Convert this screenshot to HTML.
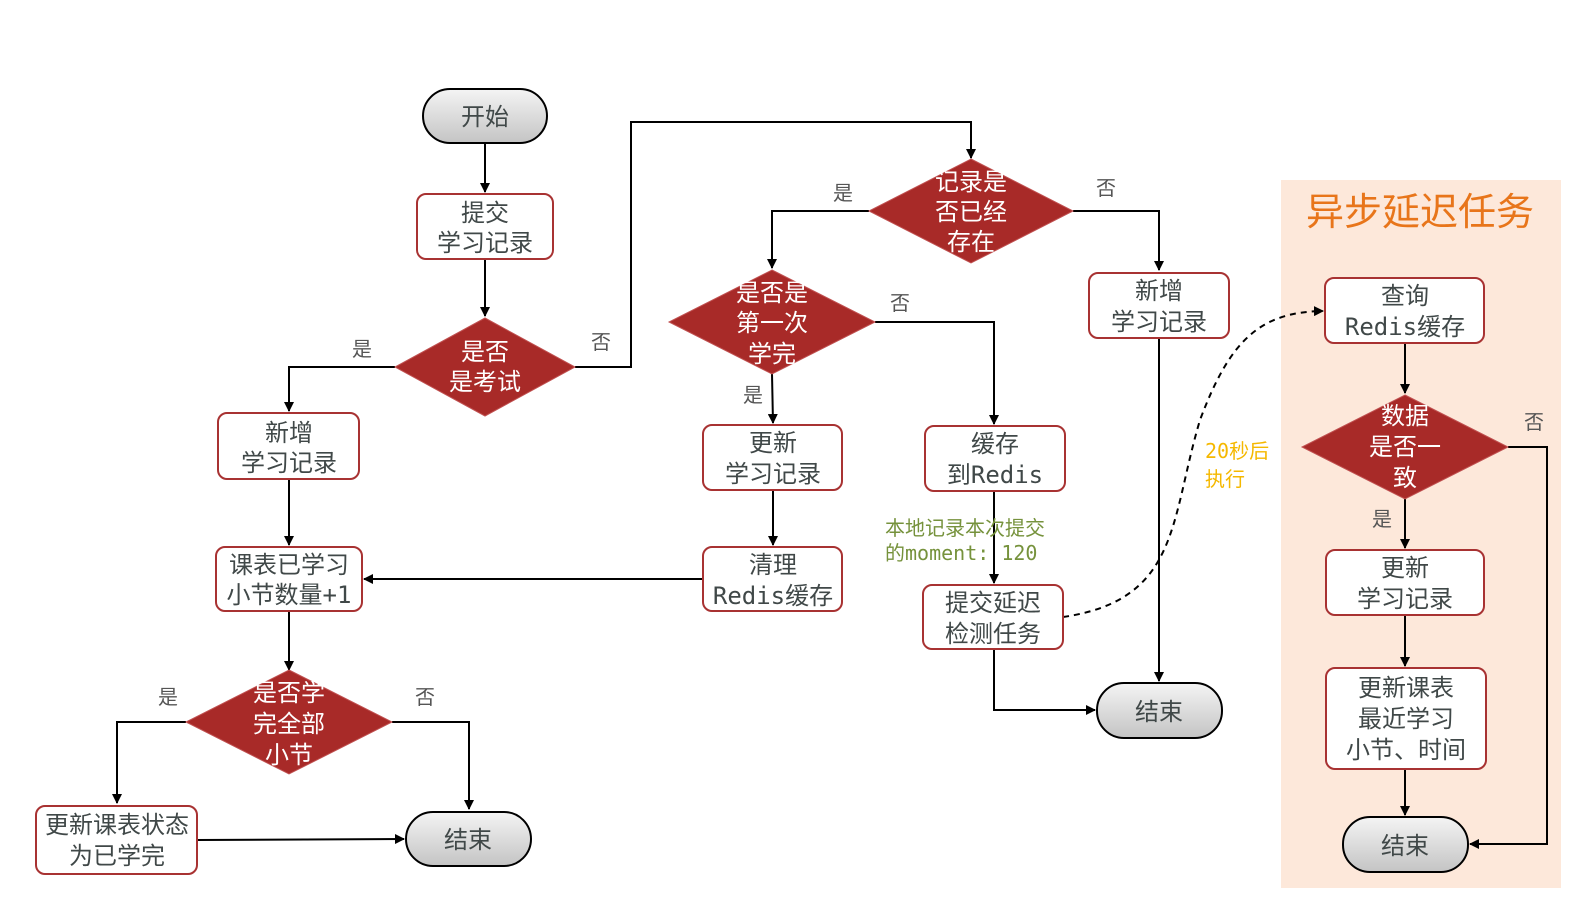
<!DOCTYPE html>
<html><head><meta charset="utf-8"><style>
html,body{margin:0;padding:0;background:#fff}
svg{display:block}
.bx{fill:#fff;stroke:#a83232;stroke-width:2}
.dm{fill:#a82a28;stroke:#c05050;stroke-width:1}
.tm{fill:url(#g);stroke:#000;stroke-width:2}
.ln{fill:none;stroke:#000;stroke-width:2}
.t{font-family:"DejaVu Sans Mono","Noto Sans CJK SC",monospace;font-size:24px;fill:#404848;text-anchor:middle}
.w{font-family:"Liberation Sans","Noto Sans CJK SC",sans-serif;font-size:24px;fill:#fff;text-anchor:middle}
.l{font-family:"Liberation Sans","Noto Sans CJK SC",sans-serif;font-size:20px;fill:#555;text-anchor:middle}
</style></head><body>
<svg width="1584" height="910" viewBox="0 0 1584 910" xmlns="http://www.w3.org/2000/svg">
<defs>
<linearGradient id="g" x1="0" y1="0" x2="0" y2="1"><stop offset="0" stop-color="#f4f4f4"/><stop offset="1" stop-color="#c4c4c4"/></linearGradient>
<marker id="a" markerWidth="10" markerHeight="10" refX="9" refY="5" orient="auto" markerUnits="userSpaceOnUse"><path d="M0,0 L10,5 L0,10 z" fill="#000"/></marker>
</defs>
<rect x="1281" y="180" width="280" height="708" fill="#fde8da"/>
<text x="1420" y="225" font-family="'Liberation Sans','Noto Sans CJK SC',sans-serif" font-size="38" fill="#e8751a" text-anchor="middle">异步延迟任务</text>

<!-- connectors -->
<g class="ln" marker-end="url(#a)">
<path d="M485,143 V192"/>
<path d="M485,259 V316"/>
<path d="M395,367 H289 V411"/>
<path d="M575,367 H631 V122 H971 V158"/>
<path d="M289,479 V545"/>
<path d="M289,611 V670"/>
<path d="M186,722 H117 V803"/>
<path d="M392,722 H469 V809"/>
<path d="M197,840 L404,839"/>
<path d="M869,211 H772 V268"/>
<path d="M1073,211 H1159 V270"/>
<path d="M1159,338 V681"/>
<path d="M772,374 L773,423"/>
<path d="M875,322 H994 V424"/>
<path d="M773,490 V545"/>
<path d="M703,579 H364"/>
<path d="M994,491 V583"/>
<path d="M994,649 V710 H1095"/>
<path d="M1405,343 V393"/>
<path d="M1508,447 H1547 V844 H1470"/>
<path d="M1405,499 V548"/>
<path d="M1405,615 V666"/>
<path d="M1405,769 V815"/>
<path d="M1063,617 C1180,600 1170,520 1200,420 C1230,340 1260,312 1323,311" stroke-dasharray="6,5"/>
</g>

<!-- terminals -->
<rect class="tm" x="423" y="89" width="124" height="54" rx="27"/><text class="t" x="485" y="125">开始</text>
<rect class="tm" x="406" y="812" width="125" height="54" rx="27"/><text class="t" x="468" y="848">结束</text>
<rect class="tm" x="1097" y="683" width="125" height="55" rx="27"/><text class="t" x="1159" y="720">结束</text>
<rect class="tm" x="1343" y="817" width="125" height="55" rx="27"/><text class="t" x="1405" y="854">结束</text>

<!-- boxes -->
<rect class="bx" x="417" y="194" width="136" height="65" rx="9"/><text class="t" x="485" y="221">提交</text><text class="t" x="485" y="251">学习记录</text>
<rect class="bx" x="218" y="413" width="141" height="66" rx="9"/><text class="t" x="289" y="441">新增</text><text class="t" x="289" y="471">学习记录</text>
<rect class="bx" x="216" y="547" width="146" height="64" rx="9"/><text class="t" x="289" y="573">课表已学习</text><text class="t" x="289" y="603">小节数量+1</text>
<rect class="bx" x="36" y="806" width="161" height="68" rx="9"/><text class="t" x="117" y="833">更新课表状态</text><text class="t" x="117" y="864">为已学完</text>
<rect class="bx" x="703" y="425" width="139" height="65" rx="9"/><text class="t" x="773" y="451">更新</text><text class="t" x="773" y="482">学习记录</text>
<rect class="bx" x="703" y="547" width="139" height="64" rx="9"/><text class="t" x="773" y="573">清理</text><text class="t" x="773" y="604">Redis缓存</text>
<rect class="bx" x="925" y="426" width="140" height="65" rx="9"/><text class="t" x="995" y="452">缓存</text><text class="t" x="995" y="483">到Redis</text>
<rect class="bx" x="923" y="585" width="140" height="64" rx="9"/><text class="t" x="993" y="611">提交延迟</text><text class="t" x="993" y="642">检测任务</text>
<rect class="bx" x="1089" y="273" width="140" height="65" rx="9"/><text class="t" x="1159" y="299">新增</text><text class="t" x="1159" y="330">学习记录</text>
<rect class="bx" x="1325" y="278" width="159" height="65" rx="9"/><text class="t" x="1405" y="304">查询</text><text class="t" x="1405" y="335">Redis缓存</text>
<rect class="bx" x="1326" y="550" width="158" height="65" rx="9"/><text class="t" x="1405" y="576">更新</text><text class="t" x="1405" y="607">学习记录</text>
<rect class="bx" x="1326" y="668" width="160" height="101" rx="9"/><text class="t" x="1406" y="696">更新课表</text><text class="t" x="1406" y="727">最近学习</text><text class="t" x="1406" y="758">小节、时间</text>

<!-- diamonds -->
<polygon class="dm" points="485,318 575,367 485,416 395,367"/><text class="w" x="485" y="360">是否</text><text class="w" x="485" y="390">是考试</text>
<polygon class="dm" points="289,670 392,722 289,774 186,722"/><text class="w" x="289" y="701">是否学</text><text class="w" x="289" y="732">完全部</text><text class="w" x="289" y="763">小节</text>
<polygon class="dm" points="971,159 1073,211 971,263 869,211"/><text class="w" x="971" y="190">记录是</text><text class="w" x="971" y="220">否已经</text><text class="w" x="971" y="250">存在</text>
<polygon class="dm" points="772,270 875,322 772,374 669,322"/><text class="w" x="772" y="301">是否是</text><text class="w" x="772" y="331">第一次</text><text class="w" x="772" y="362">学完</text>
<polygon class="dm" points="1405,395 1508,447 1405,499 1302,447"/><text class="w" x="1405" y="424">数据</text><text class="w" x="1405" y="455">是否一</text><text class="w" x="1405" y="486">致</text>

<!-- labels -->
<text class="l" x="362" y="356">是</text><text class="l" x="601" y="349">否</text>
<text class="l" x="168" y="704">是</text><text class="l" x="425" y="704">否</text>
<text class="l" x="843" y="200">是</text><text class="l" x="1106" y="195">否</text>
<text class="l" x="753" y="402">是</text><text class="l" x="900" y="310">否</text>
<text class="l" x="1534" y="429">否</text><text class="l" x="1382" y="526">是</text>
<text x="885" y="535" font-family="'DejaVu Sans Mono','Noto Sans CJK SC',monospace" font-size="20" fill="#76923c">本地记录本次提交</text>
<text x="885" y="560" font-family="'DejaVu Sans Mono','Noto Sans CJK SC',monospace" font-size="20" fill="#76923c">的moment: 120</text>
<text x="1205" y="458" font-family="'DejaVu Sans Mono','Noto Sans CJK SC',monospace" font-size="20" fill="#f5b800">20秒后</text>
<text x="1205" y="486" font-family="'DejaVu Sans Mono','Noto Sans CJK SC',monospace" font-size="20" fill="#f5b800">执行</text>
</svg>
</body></html>
